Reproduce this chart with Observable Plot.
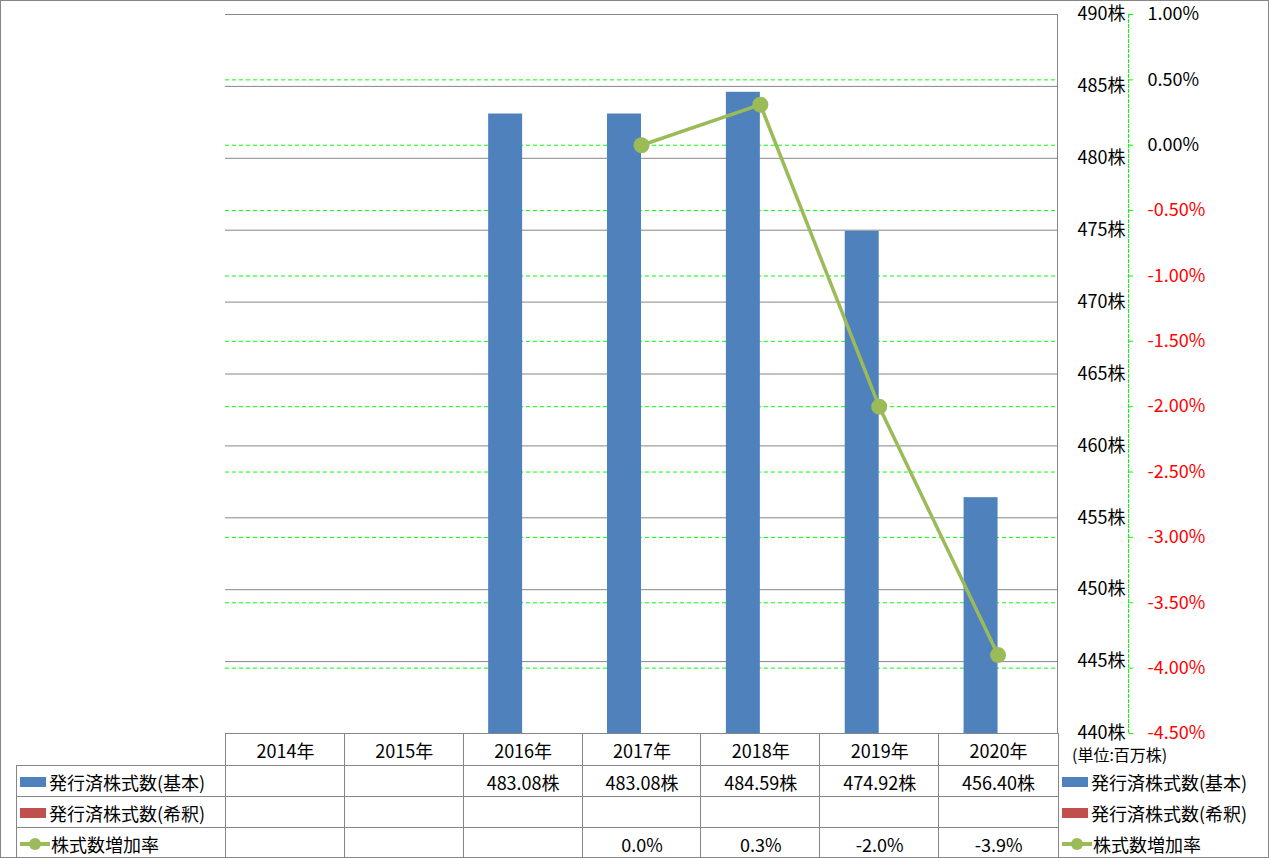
<!DOCTYPE html>
<html><head><meta charset="utf-8">
<script src="https://cdn.jsdelivr.net/npm/d3@7"></script>
<script src="https://cdn.jsdelivr.net/npm/@observablehq/plot@0.6"></script>
<style>
html,body{margin:0;padding:0;background:#fff;}
#chart{position:relative;width:1269px;height:858px;font-family:"Noto Sans CJK JP","Noto Sans",sans-serif;color:#000;overflow:hidden;background:#fff;}
#plot{position:absolute;left:0;top:0;}
.cell{position:absolute;box-sizing:border-box;border-left:1px solid #868686;border-top:1px solid #868686;display:flex;align-items:center;justify-content:center;font-size:18px;white-space:nowrap;}
.cell.last{border-right:1px solid #868686;}
.cell.lab{justify-content:flex-start;padding-left:3px;}
.sw{display:inline-block;width:26px;height:10px;margin-right:3px;}
.lg{position:absolute;display:flex;align-items:center;font-size:18px;white-space:nowrap;}
#border{position:absolute;left:0;top:0;width:1269px;height:858px;box-sizing:border-box;border:1px solid #868686;pointer-events:none;}
</style></head>
<body><div id="chart"><div id="plot"></div></div>
<script>
const years = ["2014年","2015年","2016年","2017年","2018年","2019年","2020年"];
const sharesBasic = [null,null,483.08,483.08,484.59,474.92,456.40];
const sharesDiluted = [null,null,null,null,null,null,null];
const growthRate = [null,null,null,0.00,0.31,-2.00,-3.90];
const leftTicks = [440,445,450,455,460,465,470,475,480,485,490];
const rightTicks = [-4.5,-4.0,-3.5,-3.0,-2.5,-2.0,-1.5,-1.0,-0.5,0,0.5,1.0];
const seriesNames = ["発行済株式数(基本)","発行済株式数(希釈)","株式数増加率"];
const unitLabel = "(単位:百万株)";
const colors = {basic:"#4F81BD", diluted:"#C0504D", rate:"#9BBB59"};
const FONT = '"Noto Sans CJK JP","Noto Sans",sans-serif';

const rows = years.map((year,i)=>({year, basic: sharesBasic[i], diluted: sharesDiluted[i], rate: growthRate[i]}));
const pct = d3.scaleLinear().domain([rightTicks[0], rightTicks[rightTicks.length-1]]).range([leftTicks[0], leftTicks[leftTicks.length-1]]);
const fmtPct = d => d.toFixed(2) + "%";
const yBase = leftTicks[0];

const chart = Plot.plot({
  width: 1269, height: 745,
  marginLeft: 225, marginRight: 212, marginTop: 14, marginBottom: 12,
  style: {fontFamily: FONT, fontSize: "18px", background: "transparent", color: "#000"},
  x: {type: "band", domain: years, paddingInner: 0.428, paddingOuter: 0.214, round: false, axis: null},
  y: {domain: [leftTicks[0], leftTicks[leftTicks.length-1]], axis: null},
  marks: [
    Plot.ruleY(rightTicks, {y: d => pct(d), stroke: "#00FF00", strokeDasharray: "4,3"}),
    Plot.ruleY(leftTicks, {stroke: "#868686"}),
    Plot.barY(rows.filter(d => d.basic != null), {x: "year", y1: yBase, y2: "basic", fill: colors.basic, insetRight: 34}),
    Plot.barY(rows.filter(d => d.diluted != null), {x: "year", y1: yBase, y2: "diluted", fill: colors.diluted, insetLeft: 34}),
    Plot.frame({anchor: "right", stroke: "#868686"}),
    Plot.line(rows.filter(d => d.rate != null), {x: "year", y: d => pct(d.rate), stroke: colors.rate, strokeWidth: 3.5}),
    Plot.dot(rows.filter(d => d.rate != null), {x: "year", y: d => pct(d.rate), r: 8, fill: colors.rate}),
    Plot.text(leftTicks, {y: d => d, text: d => d + "株", frameAnchor: "right", textAnchor: "end", dx: 68, fontSize: 18, fill: "#000"}),
    Plot.frame({anchor: "right", stroke: "#00FF00", strokeDasharray: "3,2", dx: 71}),
    Plot.axisY(rightTicks.map(d => pct(d)), {anchor: "right", tickSize: 4, stroke: "#00FF00", fill: "none", dx: 71, tickFormat: () => ""}),
    Plot.text(rightTicks.filter(d => d >= 0), {y: d => pct(d), text: fmtPct, frameAnchor: "right", textAnchor: "start", dx: 90, fontSize: 18, fill: "#000"}),
    Plot.text(rightTicks.filter(d => d < 0), {y: d => pct(d), text: fmtPct, frameAnchor: "right", textAnchor: "start", dx: 90, fontSize: 18, fill: "#FF0000"})
  ]
});
const root = document.getElementById("chart");
document.getElementById("plot").appendChild(chart);

// data table aligned to the x scale
const xs = chart.scale("x");
const step = xs.step;
const colLeft = y => xs.apply(y) + xs.bandwidth/2 - step/2;
const tableLeft = 16;
const rowTops = [733, 765, 796, 827, 858];
function cell(left, top, w, h, html, cls) {
  const d = document.createElement("div");
  d.className = "cell" + (cls ? " " + cls : "");
  d.style.left = left + "px"; d.style.top = top + "px";
  d.style.width = (w + (cls && cls.includes("last") ? 1 : 0)) + "px"; d.style.height = h + "px";
  d.innerHTML = html;
  root.appendChild(d);
}
years.forEach((y, i) => cell(colLeft(y), rowTops[0], step + 1, rowTops[1]-rowTops[0] + 1, y, i === years.length-1 ? "last" : ""));
const swatch = (k) => k === "rate"
  ? `<svg width="30" height="16" style="margin-right:1px"><line x1="0" y1="8" x2="30" y2="8" stroke="${colors.rate}" stroke-width="4"/><circle cx="15" cy="8" r="6" fill="${colors.rate}"/></svg>`
  : `<span class="sw" style="background:${colors[k]}"></span>`;
const series = [
  {k: "basic", name: seriesNames[0], fmt: v => v.toFixed(2) + "株"},
  {k: "diluted", name: seriesNames[1], fmt: v => v.toFixed(2) + "株"},
  {k: "rate", name: seriesNames[2], fmt: v => v.toFixed(1) + "%"}
];
series.forEach((s, r) => {
  const top = rowTops[r+1], h = rowTops[r+2] - top + 1;
  const firstCol = colLeft(years[0]);
  cell(tableLeft, top, firstCol - tableLeft + 1, h, swatch(s.k) + s.name, "lab");
  rows.forEach((d, i) => cell(colLeft(d.year), top, step + 1, h, d[s.k] == null ? "" : s.fmt(d[s.k]), i === years.length-1 ? "last" : ""));
  const lg = document.createElement("div");
  lg.className = "lg";
  lg.style.left = "1062px"; lg.style.top = (top + 1) + "px"; lg.style.height = (h - 1) + "px";
  lg.innerHTML = swatch(s.k) + s.name;
  root.appendChild(lg);
});
const unit = document.createElement("div");
unit.className = "lg";
unit.style.left = "1072px"; unit.style.top = "742px"; unit.style.fontSize = "16px";
unit.textContent = unitLabel;
root.appendChild(unit);
const b = document.createElement("div"); b.id = "border"; root.appendChild(b);
</script></body></html>
